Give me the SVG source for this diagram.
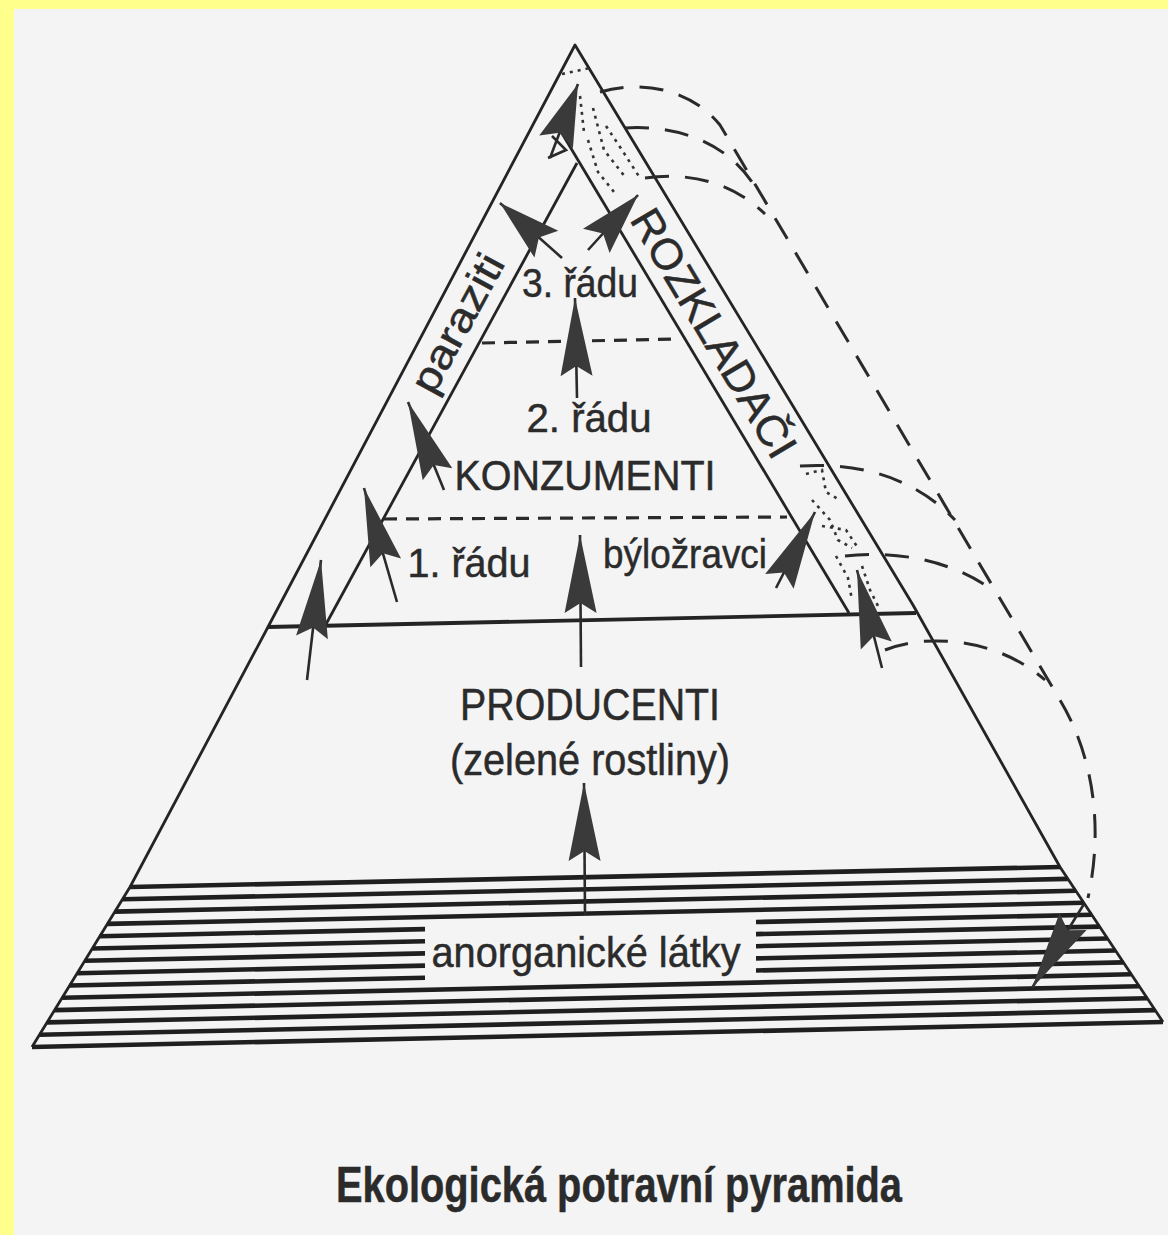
<svg xmlns="http://www.w3.org/2000/svg" width="1168" height="1235" viewBox="0 0 1168 1235">
<style>
 .edge{fill:none;stroke:#242424;stroke-width:2.8;stroke-linejoin:round}
 .thick{fill:none;stroke:#242424;stroke-width:3.8}
 .hatch{fill:none;stroke:#1f1f1f;stroke-width:4.6}
 .lvl{fill:none;stroke:#2a2a2a;stroke-width:3.2;stroke-dasharray:13 9}
 .flow{fill:none;stroke:#2a2a2a;stroke-width:3;stroke-dasharray:24 16}
 .arr{fill:none;stroke:#2a2a2a;stroke-width:2.6}
 .big{marker-end:url(#dartL)}
 .small{marker-end:url(#dartS)}
 .lbl{font-family:'Liberation Sans',Arial,Helvetica,sans-serif;fill:#2b2b2b;stroke:#2b2b2b;stroke-width:0.5}
 .dots{fill:none;stroke:#333;stroke-width:2.6;stroke-dasharray:3 5}
</style>
<defs>
 <marker id="dartL" markerUnits="userSpaceOnUse" viewBox="-80 -18 82 36" refX="0" refY="0" markerWidth="82" markerHeight="36" orient="auto">
  <path d="M0,0 L-78,-16 L-68,0 L-78,16 Z" fill="#3a3a3a"/>
 </marker>
 <marker id="dartS" markerUnits="userSpaceOnUse" viewBox="-66 -20 68 40" refX="0" refY="0" markerWidth="68" markerHeight="40" orient="auto">
  <path d="M0,0 L-62,-18 L-52,0 L-62,18 Z" fill="#3a3a3a"/>
 </marker>
</defs>
<rect x="0" y="0" width="1168" height="1235" fill="#f4f4f4"/>
<rect x="0" y="0" width="1168" height="9" fill="#ffff8c"/>
<rect x="0" y="0" width="14" height="1235" fill="#ffff8c"/>

<g id="pyramid">
 <polyline class="edge" points="32,1047 130,887 268,627 575,45 913,605 1060,867 1163,1022"/>
 <line class="thick" x1="268" y1="627" x2="916" y2="613"/>
 <line class="edge" x1="577" y1="163" x2="325" y2="626"/>
 <line class="edge" x1="560" y1="130" x2="849" y2="613"/>
 <line class="lvl" x1="384" y1="519" x2="787" y2="517"/>
 <line class="lvl" x1="482" y1="343" x2="678" y2="339"/>
</g>

<g id="anorganicke-latky">
 <line class="hatch" x1="130" y1="887" x2="1060" y2="867"/>
 <line class="hatch" x1="122.5" y1="899.3" x2="1067.9" y2="878.9"/>
 <line class="hatch" x1="114.9" y1="911.6" x2="1075.8" y2="890.8"/>
 <line class="hatch" x1="107.4" y1="923.9" x2="1083.8" y2="902.8"/>
 <line class="hatch" x1="99.8" y1="936.2" x2="425" y2="929.1"/>
 <line class="hatch" x1="756" y1="922" x2="1091.7" y2="914.7"/>
 <line class="hatch" x1="92.3" y1="948.5" x2="425" y2="941.3"/>
 <line class="hatch" x1="756" y1="934.1" x2="1099.6" y2="926.6"/>
 <line class="hatch" x1="84.8" y1="960.8" x2="425" y2="953.4"/>
 <line class="hatch" x1="756" y1="946.2" x2="1107.5" y2="938.5"/>
 <line class="hatch" x1="77.2" y1="973.2" x2="425" y2="965.6"/>
 <line class="hatch" x1="756" y1="958.4" x2="1115.5" y2="950.5"/>
 <line class="hatch" x1="69.7" y1="985.5" x2="425" y2="977.7"/>
 <line class="hatch" x1="756" y1="970.5" x2="1123.4" y2="962.4"/>
 <line class="hatch" x1="62.2" y1="997.8" x2="1131.3" y2="974.3"/>
 <line class="hatch" x1="54.6" y1="1010.1" x2="1139.2" y2="986.2"/>
 <line class="hatch" x1="47.1" y1="1022.4" x2="1147.2" y2="998.2"/>
 <line class="hatch" x1="39.5" y1="1034.7" x2="1155.1" y2="1010.1"/>
 <line class="hatch" x1="32" y1="1047" x2="1163" y2="1022"/>
 <text class="lbl" x="586" y="967" font-size="43" text-anchor="middle" textLength="309" lengthAdjust="spacingAndGlyphs">anorganické látky</text>
</g>

<g id="producenti">
 <text class="lbl" x="590" y="720" font-size="44" text-anchor="middle" textLength="260" lengthAdjust="spacingAndGlyphs">PRODUCENTI</text>
 <text class="lbl" x="590" y="775" font-size="44" text-anchor="middle" textLength="280" lengthAdjust="spacingAndGlyphs">(zelené rostliny)</text>
</g>

<g id="konzumenti">
 <text class="lbl" x="585" y="490" font-size="43" text-anchor="middle" textLength="261" lengthAdjust="spacingAndGlyphs">KONZUMENTI</text>
 <text class="lbl" x="469" y="577" font-size="41" text-anchor="middle" textLength="123" lengthAdjust="spacingAndGlyphs">1. řádu</text>
 <text class="lbl" x="685" y="568" font-size="41" text-anchor="middle" textLength="164" lengthAdjust="spacingAndGlyphs">býložravci</text>
 <text class="lbl" x="589" y="432" font-size="41" text-anchor="middle" textLength="125" lengthAdjust="spacingAndGlyphs">2. řádu</text>
 <text class="lbl" x="580" y="297" font-size="41" text-anchor="middle" textLength="116" lengthAdjust="spacingAndGlyphs">3. řádu</text>
</g>

<g id="paraziti">
 <text class="lbl" transform="translate(461,325) rotate(-61.5)" x="0" y="10" font-size="41" text-anchor="middle" textLength="152" lengthAdjust="spacingAndGlyphs">paraziti</text>
</g>

<g id="rozkladaci">
 <text class="lbl" transform="translate(714,333) rotate(59.2)" x="0" y="15" font-size="43" text-anchor="middle" textLength="282" lengthAdjust="spacingAndGlyphs">ROZKLADAČI</text>
 <path class="dots" d="M562,74 L590,68"/>
 <path class="dots" d="M580,96 L584,132"/>
 <path class="dots" d="M593,108 L604,150 L626,178"/>
 <path class="dots" d="M606,126 L622,150 L640,178"/>
 <path class="dots" d="M588,140 L598,172 L614,192"/>
 <path class="dots" d="M806,474 L822,470 L826,492 L840,500"/>
 <path class="dots" d="M812,500 L830,520 L838,540 L852,548"/>
 <path class="dots" d="M822,526 L846,530 L858,548"/>
 <path class="dots" d="M836,556 L848,578 L852,600"/>
 <path class="dots" d="M862,566 L870,590 L878,606"/>
</g>

<g id="connectors">
 <line class="arr small" x1="550" y1="158" x2="578" y2="84"/>
 <polyline class="arr" points="548,158 566,150 552,136"/>
 <line class="arr small" x1="562" y1="258" x2="500" y2="203"/>
 <line class="arr small" x1="588" y1="250" x2="638" y2="195"/>
 <line class="arr big" x1="577" y1="398" x2="575" y2="298"/>
 <line class="arr big" x1="444" y1="490" x2="408" y2="402"/>
 <line class="arr big" x1="397" y1="602" x2="364" y2="488"/>
 <line class="arr big" x1="307" y1="680" x2="321" y2="560"/>
 <line class="arr big" x1="581" y1="667" x2="580" y2="535"/>
 <line class="arr big" x1="585" y1="915" x2="584" y2="783"/>
 <line class="arr big" x1="776" y1="588" x2="815" y2="512"/>
 <line class="arr big" x1="882" y1="668" x2="857" y2="570"/>
 <line class="arr big" x1="1084" y1="904" x2="1032" y2="988"/>
 <path class="flow" d="M600,92 C640,80 690,88 720,125 L1060,700 C1090,750 1105,820 1088,898"/>
 <path class="flow" d="M625,128 C670,125 722,138 752,182"/>
 <path class="flow" d="M645,178 C690,172 732,182 765,214"/>
 <path class="flow" d="M800,466 C860,462 915,478 955,520"/>
 <path class="flow" d="M845,556 C900,550 950,562 985,585"/>
 <path class="flow" d="M885,650 C930,632 1000,640 1045,680"/>
</g>

<g id="title">
 <text class="lbl" x="619" y="1202" font-size="50" font-weight="bold" text-anchor="middle" textLength="566" lengthAdjust="spacingAndGlyphs">Ekologická potravní pyramida</text>
</g>
</svg>
